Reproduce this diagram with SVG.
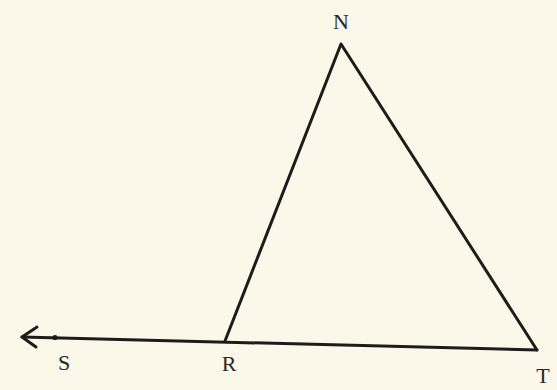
<svg xmlns="http://www.w3.org/2000/svg" width="557" height="390" viewBox="0 0 557 390">
<style>
.edge{stroke:#1e1c1a;stroke-width:3;fill:none;stroke-linecap:round;stroke-linejoin:round}
.lbl{font-family:"Liberation Serif","Times New Roman",serif;font-size:22px;fill:#2a2826;text-anchor:middle}
</style>
<rect width="557" height="390" fill="#fbf8ea"/>
<g id="connectors">
<polyline class="edge" points="225,341 341,44 537,350"/>
<line class="edge" x1="22" y1="337" x2="537" y2="350"/>
<polyline class="edge" points="37,327 22,337 36,347" stroke-width="3.4"/>
</g>
<g id="node-N"><text class="lbl" x="341" y="29">N</text></g>
<g id="node-S"><circle cx="55" cy="337.5" r="2.6" fill="#1e1c1a"/><text class="lbl" x="64" y="370">S</text></g>
<g id="node-R"><text class="lbl" x="229" y="371">R</text></g>
<g id="node-T"><text class="lbl" x="543" y="383">T</text></g>
</svg>
